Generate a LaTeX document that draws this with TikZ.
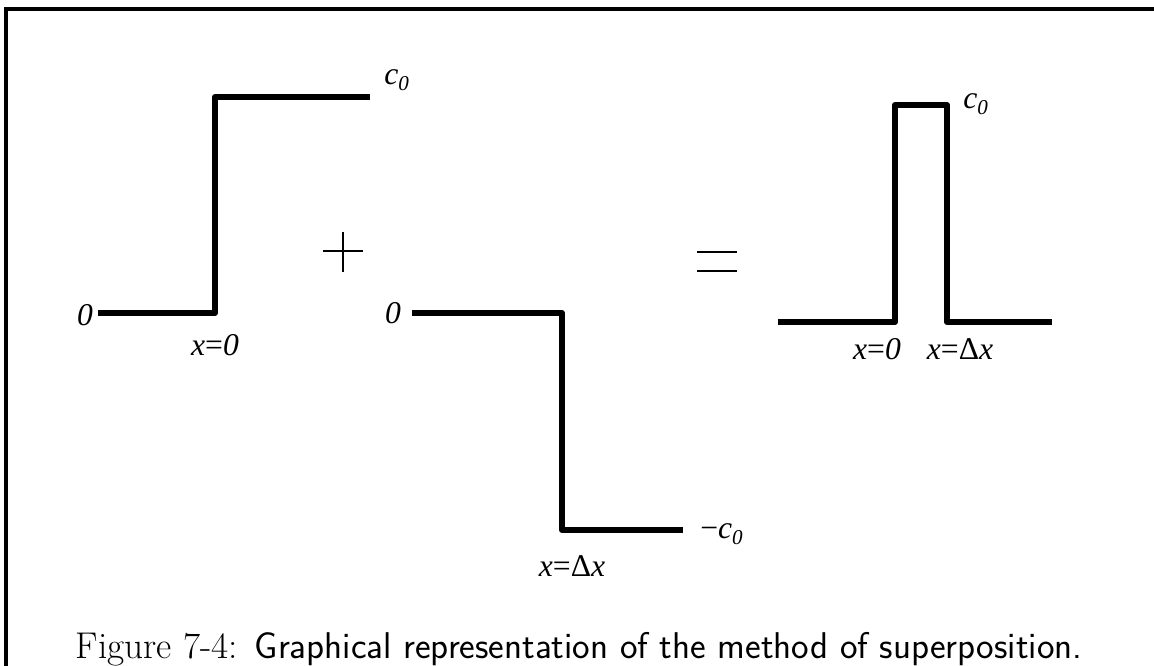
\documentclass[tikz,border=0pt]{standalone}
\usepackage{fontspec}
\newfontfamily\timesit{Liberation Serif Italic}
\newfontfamily\timesup{Liberation Serif}
\usetikzlibrary{positioning}
\newcommand{\sub}[1]{\raisebox{-0.45ex}{\fontsize{12}{12}\selectfont #1}}
\newcommand{\up}[1]{{\timesup #1}}
\tikzset{curve/.style={line width=3.4pt,line join=round},
  sym/.style={line width=1.7pt},
  lab/.style={font=\fontsize{18}{20}\selectfont\timesit,inner sep=0pt}}

\begin{document}
\begin{tikzpicture}[x=0.02cm,y=-0.02cm]
\useasboundingbox (0,0) rectangle (1154,666);
% frame (only left and top edges show)
\draw[line width=1.8pt] (6,700) -- (6,9) -- (1200,9);
% --- step up at x=0
\draw[curve] (98,313) -- (215,313) -- (215,97) -- (370,97);
\node[lab] (zeroA) at (85,315) {0};
\node[lab,anchor=base west] (cA) at (384,84) {c\sub{0}};
\node[lab] (xA) at (215,345) {x\up{=}0};
% plus
\draw[sym] (323,251) -- (363,251) (343,232) -- (343,272);
% --- step down at x=dx
\draw[curve] (412,313) -- (562,313) -- (562,530) -- (683,530);
\node[lab] (zeroB) at (393,313) {0};
\node[lab,anchor=west] (cB) at (700,534) {\up{−}c\sub{0}};
\node[lab] (xB) at (572,566) {x\up{=Δ}x};
% equals
\draw[sym] (697,252) -- (737,252) (697,271) -- (737,271);
% --- resulting pulse
\draw[curve] (778,322) -- (895,322) -- (895,105) -- (947,105) -- (947,322) -- (1052,322);
\node[lab,anchor=west] (cC) at (963,104) {c\sub{0}};
\node[lab] (xC) at (877,349) {x\up{=}0};
\node[lab] (xD) at (960,349) {x\up{=Δ}x};
% caption
\node[anchor=base,inner sep=0pt,font=\fontsize{21.2}{24}\selectfont] (capt) at (579,658)
  {\rmfamily Figure 7-4:\hspace{0.45em}\sffamily Graphical representation of the method of superposition.};
\end{tikzpicture}
\end{document}
